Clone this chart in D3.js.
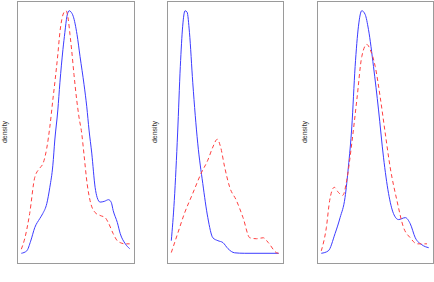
<!DOCTYPE html>
<html>
<head>
<meta charset="utf-8">
<script src="https://cdn.jsdelivr.net/npm/d3@7/dist/d3.min.js"></script>
<style>
  html, body { margin: 0; padding: 0; background: #fff; }
  svg { display: block; }
</style>
</head>
<body>
<svg id="chart" width="434" height="282"></svg>
<script>
// ---- data (x in each panel's own units, y = estimated density) ----
const yLabel = "density";

const p1Blue = [[0,0],[5,0.01],[8.6,0.05],[12.4,0.106],[17,0.143],[19.8,0.164],[23.5,0.205],[26.3,0.272],[29.1,0.363],[30.9,0.467],[33.7,0.591],[35.6,0.703],[38.4,0.84],[40.2,0.911],[42.1,0.977],[44.2,1.0],[45.8,0.995],[47.9,0.977],[51.4,0.902],[54.2,0.811],[57.9,0.695],[60.4,0.604],[62.5,0.508],[65,0.413],[68.1,0.272],[70,0.23],[72.7,0.211],[76.5,0.214],[80.5,0.221],[83,0.21],[84.8,0.176],[88.6,0.127],[91.3,0.081],[96,0.039],[100,0.019]];
const p1Red = [[0,0.017],[3.1,0.06],[7.7,0.164],[12.4,0.313],[17,0.351],[20.1,0.371],[23.5,0.434],[26.3,0.521],[29.1,0.633],[30.9,0.703],[33.7,0.82],[35.6,0.911],[37.4,0.965],[39.6,0.995],[41.2,1.0],[43.3,0.965],[44.9,0.902],[46.4,0.84],[48.6,0.737],[51.1,0.633],[53.2,0.562],[55.7,0.496],[57.9,0.405],[60.7,0.288],[63.4,0.218],[68.1,0.168],[72.7,0.156],[77.4,0.147],[80.2,0.127],[84.8,0.081],[88.5,0.052],[91.3,0.044],[96,0.039],[100,0.039]];

const p2Blue = [[0,0.052],[2.8,0.218],[5.9,0.496],[8.4,0.77],[10.6,0.936],[12.8,1.0],[14.7,0.994],[16.9,0.911],[20,0.703],[24.6,0.454],[29.3,0.288],[34,0.147],[38.7,0.064],[43.4,0.052],[48.1,0.044],[52.8,0.019],[59,0.002],[68.4,0],[100,0]];
const p2Red = [[0,0.003],[5.9,0.081],[12.2,0.164],[20,0.247],[27.8,0.33],[34,0.384],[38.7,0.438],[42.8,0.47],[45.9,0.438],[49.7,0.355],[54.4,0.272],[60.6,0.218],[66.8,0.147],[73.1,0.064],[79.4,0.06],[85.6,0.064],[90.3,0.044],[98.1,0.002],[100,0]];

const p3Blue = [[0,0],[6.5,0.01],[12.8,0.081],[17.5,0.147],[22.1,0.23],[25.2,0.355],[28.4,0.521],[31.5,0.77],[34.6,0.936],[37.7,1.0],[40.8,0.985],[43.9,0.923],[48.6,0.77],[53.3,0.591],[57.9,0.396],[62.6,0.247],[67.2,0.164],[71.9,0.139],[78.2,0.147],[82.8,0.122],[87.5,0.064],[93.7,0.035],[100,0.023]];
const p3Red = [[0,0.01],[4.7,0.106],[7.8,0.218],[12.1,0.272],[15.9,0.251],[20,0.239],[23.7,0.301],[28.4,0.454],[33.1,0.633],[37.7,0.811],[42.4,0.861],[45.5,0.84],[50.2,0.77],[54.8,0.645],[59.5,0.496],[64.1,0.355],[70.4,0.218],[76.6,0.106],[82.8,0.064],[89.1,0.039],[98.4,0.039]];

const panels = [
  { blue: p1Blue, red: p1Red, left: 17, right: 134, labelX: 5 },
  { blue: p2Blue, red: p2Red, left: 167, right: 283, labelX: 155 },
  { blue: p3Blue, red: p3Red, left: 317, right: 433, labelX: 305 }
];
const plotTop = 1, plotBottom = 263;

const svg = d3.select("#chart");

function padded(ext) {
  const d = (ext[1] - ext[0]) * 0.04;
  return [ext[0] - d, ext[1] + d];
}

panels.forEach(p => {
  const all = p.blue.concat(p.red);
  const x = d3.scaleLinear().domain(padded(d3.extent(all, d => d[0]))).range([p.left, p.right]);
  const y = d3.scaleLinear().domain(padded(d3.extent(all, d => d[1]))).range([plotBottom, plotTop]);
  const line = d3.line().x(d => x(d[0])).y(d => y(d[1])).curve(d3.curveMonotoneX);

  svg.append("rect")
    .attr("x", p.left + 0.5).attr("y", plotTop + 0.5)
    .attr("width", p.right - p.left).attr("height", plotBottom - plotTop)
    .attr("fill", "none").attr("stroke", "#9a9a9a").attr("stroke-width", 1);

  svg.append("path").datum(p.blue).attr("d", line)
    .attr("fill", "none").attr("stroke", "#3c3cff").attr("stroke-width", 1);
  svg.append("path").datum(p.red).attr("d", line)
    .attr("fill", "none").attr("stroke", "#ff4040").attr("stroke-width", 1)
    .attr("stroke-dasharray", "4,3");

  svg.append("text")
    .attr("transform", `translate(${p.labelX},${(plotTop + plotBottom) / 2}) rotate(-90)`)
    .attr("text-anchor", "middle").attr("dominant-baseline", "middle")
    .attr("font-family", "Liberation Sans, Arial, sans-serif")
    .attr("font-size", 7).attr("fill", "#333")
    .text(yLabel);
});
</script>
</body>
</html>
